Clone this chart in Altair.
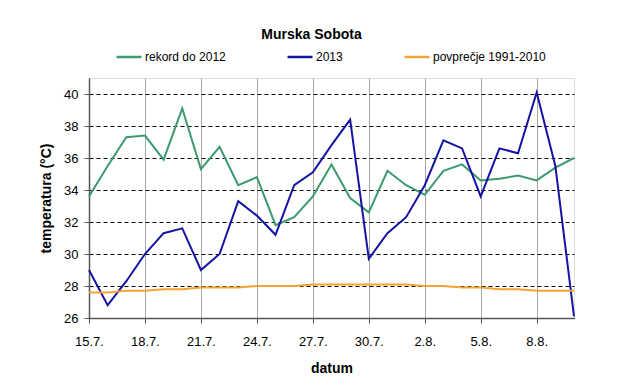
import altair as alt
import pandas as pd

days = ["15.7.", "16.7.", "17.7.", "18.7.", "19.7.", "20.7.", "21.7.", "22.7.", "23.7.",
        "24.7.", "25.7.", "26.7.", "27.7.", "28.7.", "29.7.", "30.7.", "31.7.", "1.8.",
        "2.8.", "3.8.", "4.8.", "5.8.", "6.8.", "7.8.", "8.8.", "9.8.", "10.8."]

rekord = [33.6, 35.5, 37.3, 37.4, 35.9, 39.1, 35.3, 36.7, 34.3,
          34.8, 31.8, 32.3, 33.6, 35.6, 33.5, 32.6, 35.2, 34.3,
          33.7, 35.2, 35.6, 34.6, 34.7, 34.9, 34.6, 35.4, 36.0]

t2013 = [29.0, 26.8, 28.3, 30.0, 31.3, 31.6, 29.0, 30.0, 33.3,
         32.4, 31.2, 34.3, 35.1, 36.8, 38.4, 29.7, 31.3, 32.3,
         34.3, 37.1, 36.6, 33.6, 36.6, 36.3, 40.1, 35.5, 26.1]

povprecje = [27.6, 27.6, 27.7, 27.7, 27.8, 27.8, 27.9, 27.9, 27.9,
             28.0, 28.0, 28.0, 28.1, 28.1, 28.1, 28.1, 28.1, 28.1,
             28.0, 28.0, 27.9, 27.9, 27.8, 27.8, 27.7, 27.7, 27.7]

series_names = ["rekord do 2012", "2013", "povprečje 1991-2010"]
series_colors = ["#3c9a6e", "#1414a2", "#f4a432"]
x_ticks = ["15.7.", "18.7.", "21.7.", "24.7.", "27.7.", "30.7.", "2.8.", "5.8.", "8.8."]
y_ticks = [26, 28, 30, 32, 34, 36, 38, 40]

rows = []
for name, vals in zip(series_names, [rekord, t2013, povprecje]):
    for d, v in zip(days, vals):
        rows.append({"datum": d, "temp": v, "serija": name})
df = pd.DataFrame(rows)

FONT = "Liberation Sans"

chart = alt.Chart(df).mark_line(strokeWidth=2).encode(
    x=alt.X("datum:O", sort=days,
            scale=alt.Scale(type="point", padding=0),
            axis=alt.Axis(title="datum", values=x_ticks, labelAngle=0,
                          grid=True, gridColor="#a8a8a8", gridWidth=1,
                          domainColor="#555555", domainWidth=1.5,
                          tickColor="#555555", tickSize=5, tickWidth=1,
                          labelFont=FONT, labelFontSize=13, labelColor="#000000",
                          labelPadding=12,
                          titleFont=FONT, titleFontSize=14, titleFontWeight="bold",
                          titleColor="#000000", titlePadding=13)),
    y=alt.Y("temp:Q",
            scale=alt.Scale(domain=[26, 41], nice=False, zero=False),
            axis=alt.Axis(title="temperatura (°C)", values=y_ticks,
                          grid=True, gridColor="#000000", gridDash=[4, 3], gridWidth=1,
                          domainColor="#555555", domainWidth=1.5,
                          tickColor="#555555", tickSize=5, tickWidth=1,
                          labelFont=FONT, labelFontSize=13, labelColor="#000000",
                          labelPadding=6,
                          titleFont=FONT, titleFontSize=14, titleFontWeight="bold",
                          titleColor="#000000", titlePadding=10)),
    color=alt.Color("serija:N",
                    scale=alt.Scale(domain=series_names, range=series_colors),
                    legend=alt.Legend(title=None, orient="none", legendX=26, legendY=-35,
                                      direction="horizontal", symbolType="stroke",
                                      symbolSize=625, symbolStrokeWidth=2.5,
                                      labelFont=FONT, labelFontSize=12, labelColor="#000000",
                                      labelOffset=2, columnPadding=56)),
    order=alt.Order("serija:N"),
).properties(
    width=485,
    height=240,
    padding={"left": 81, "top": 70, "right": 44, "bottom": 66},
    autosize=alt.AutoSizeParams(type="none"),
    title=alt.TitleParams("Murska Sobota", font=FONT, fontSize=14, fontWeight="bold",
                          color="#000000", frame="group", anchor="middle", dx=-20, offset=1),
).configure_view(
    stroke="#a8a8a8", strokeWidth=1
).configure(background="#ffffff")

chart.save("out.html", embed_options={"renderer": "svg", "actions": False})
